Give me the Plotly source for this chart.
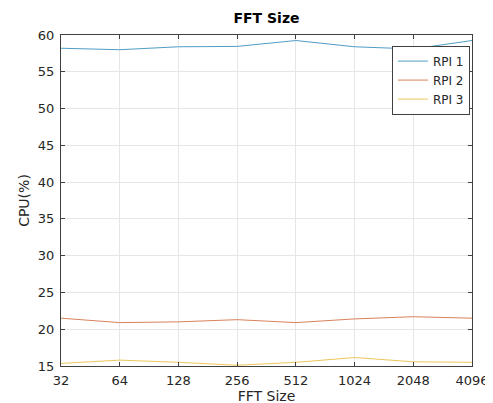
import plotly.graph_objects as go

fft_sizes = ["32", "64", "128", "256", "512", "1024", "2048", "4096"]
rpi1 = [58.2, 58.0, 58.4, 58.45, 59.25, 58.4, 58.1, 59.25]
rpi2 = [21.5, 20.9, 21.0, 21.3, 20.9, 21.4, 21.7, 21.5]
rpi3 = [15.35, 15.8, 15.5, 15.1, 15.5, 16.15, 15.57, 15.5]
series_names = ["RPI 1", "RPI 2", "RPI 3"]
colors = ["#4f9dc6", "#d9825a", "#ecc65a"]

fig = go.Figure()
for name, ys, c in zip(series_names, [rpi1, rpi2, rpi3], colors):
    fig.add_trace(go.Scatter(x=fft_sizes, y=ys, mode="lines", name=name,
                             line=dict(color=c, width=1)))

axis_common = dict(showline=True, linecolor="#404040", linewidth=1, mirror="ticks",
                   ticks="inside", ticklen=4, tickcolor="#404040",
                   showgrid=True, gridcolor="#e6e6e6", gridwidth=1, zeroline=False,
                   tickfont=dict(family="DejaVu Sans", size=13, color="#262626"))

fig.update_layout(
    width=493, height=403,
    margin=dict(l=53, r=17, t=27, b=37),
    paper_bgcolor="white", plot_bgcolor="white",
    font=dict(family="DejaVu Sans", color="#262626"),
    title=dict(text="<b>FFT Size</b>", x=0.5, xanchor="center", xref="paper",
               y=1, yref="container", yanchor="top", pad=dict(t=5),
               font=dict(family="DejaVu Sans", size=14, color="black")),
    xaxis=dict(axis_common, type="category", range=[0, 7], ticklabelstandoff=2,
               title=dict(text="FFT Size", standoff=2,
                          font=dict(family="DejaVu Sans", size=14, color="#262626"))),
    yaxis=dict(axis_common, range=[15, 60], tickvals=list(range(15, 61, 5)),
               ticklabelstandoff=3,
               title=dict(text="CPU(%)", standoff=4,
                          font=dict(family="DejaVu Sans", size=14, color="#262626"))),
    legend=dict(x=0.995, y=0.968, xanchor="right", yanchor="top",
                bgcolor="white", bordercolor="#404040", borderwidth=1,
                font=dict(family="DejaVu Sans", size=12, color="#262626"),
                tracegroupgap=0, itemwidth=30),
    showlegend=True,
)

fig.write_html("out.html")
